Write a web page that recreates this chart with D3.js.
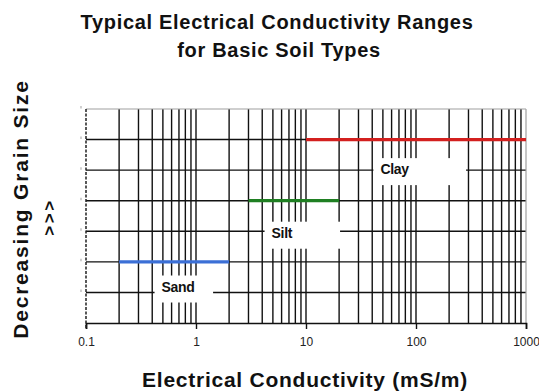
<!DOCTYPE html>
<html>
<head>
<meta charset="utf-8">
<script src="https://cdnjs.cloudflare.com/ajax/libs/d3/7.8.5/d3.min.js"></script>
<style>
  body { margin: 0; background: #fff; }
  svg { display: block; font-family: "Liberation Sans", Arial, sans-serif; }
</style>
</head>
<body>
<svg id="chart" width="539" height="391"></svg>
<script>
// ---- data ----
const soilTypes = ["Sand", "Silt", "Clay"];
const rangeMin = [0.2, 3, 10];        // mS/m
const rangeMax = [2, 20, 1000];       // mS/m
const rangeLevel = [2, 4, 6];         // grain-size level (relative)
const soilColors = ["#3b6fd6", "#1f7f22", "#d3201f"];
const labelLevel = [1.03, 2.79, 4.87]; // label baseline level
const labelFrom = [0.42, 4.2, 41];
const labelTo = [1.43, 20.4, 285];
const xTickValues = [0.1, 1, 10, 100, 1000];
const xTickLabels = ["0.1", "1", "10", "100", "1000"];
const yLevels = [0, 1, 2, 3, 4, 5, 6, 7];

// ---- layout ----
const svg = d3.select("#chart");
const L = 86, R = 526, T = 109, B = 323;
const x = d3.scaleLog().domain([0.1, 1000]).range([L, R]);
const y = d3.scaleLinear().domain([0, 7]).range([B, T]);

// minor + major vertical grid values
const vGrid = [];
[0.1, 1, 10, 100].forEach(d => { for (let k = 1; k <= 9; k++) vGrid.push(d * k); });

const g = svg.append("g");

// vertical gridlines (skip left axis at 0.1)
g.selectAll(".vg").data(vGrid.filter(v => v > 0.1 + 1e-9)).join("line")
  .attr("x1", d => x(d)).attr("x2", d => x(d))
  .attr("y1", y(7)).attr("y2", B)
  .attr("stroke", "#111").attr("stroke-width", 1.4);

// horizontal gridlines
g.selectAll(".hg").data(yLevels.filter(v => v > 0 && v < 7)).join("line")
  .attr("x1", L).attr("x2", R)
  .attr("y1", d => y(d)).attr("y2", d => y(d))
  .attr("stroke", "#111").attr("stroke-width", 1.4);

// top and right border (gray)
g.append("line").attr("x1", L).attr("x2", R).attr("y1", y(7)).attr("y2", y(7))
  .attr("stroke", "#a0a0a0").attr("stroke-width", 1.2);
g.append("line").attr("x1", R).attr("x2", R).attr("y1", y(7)).attr("y2", B)
  .attr("stroke", "#a0a0a0").attr("stroke-width", 1.2);

// label boxes (white) covering gridlines
soilTypes.forEach((s, i) => {
  const yb = y(labelLevel[i]);
  const x0 = x(labelFrom[i]), x1 = x(labelTo[i]);
  g.append("rect").attr("x", x0).attr("y", yb - 16).attr("width", x1 - x0).attr("height", 27)
    .attr("fill", "#fff");
  g.append("text").attr("x", x0 + 7).attr("y", yb)
    .attr("font-size", 14).attr("font-weight", "bold").attr("fill", "#111")
    .attr("letter-spacing", -0.3)
    .text(s);
});

// bottom axis
const xAxis = d3.axisBottom(x).tickValues(xTickValues)
  .tickFormat((d, i) => xTickLabels[i]).tickSize(6).tickPadding(8);
const ax = svg.append("g").attr("transform", `translate(0,${B})`).call(xAxis);
ax.select(".domain").attr("stroke", "#111").attr("stroke-width", 1.6);
ax.selectAll(".tick line").attr("stroke", "#111").attr("stroke-width", 1.4);
ax.selectAll(".tick text").attr("font-size", 12).attr("fill", "#222")
  .attr("font-family", "Liberation Sans, Arial, sans-serif");

// left axis (dashed)
svg.append("line").attr("x1", L).attr("x2", L).attr("y1", T).attr("y2", B + 6)
  .attr("stroke", "#222").attr("stroke-width", 1.5).attr("stroke-dasharray", "3,1.5");
// tiny gray tick marks left of axis
svg.selectAll(".yt").data(yLevels.filter(v => v > 0)).join("line")
  .attr("x1", L - 5).attr("x2", L - 5)
  .attr("y1", d => y(d) - 3).attr("y2", d => y(d) - 0.5)
  .attr("stroke", "#b0b0b0").attr("stroke-width", 1.2);

// soil range lines
svg.selectAll(".range").data(soilTypes).join("line")
  .attr("x1", (d, i) => x(rangeMin[i])).attr("x2", (d, i) => x(rangeMax[i]))
  .attr("y1", (d, i) => y(rangeLevel[i])).attr("y2", (d, i) => y(rangeLevel[i]))
  .attr("stroke", (d, i) => soilColors[i]).attr("stroke-width", 3.2);

// titles
svg.append("text").attr("x", 277).attr("y", 29).attr("text-anchor", "middle")
  .attr("font-size", 20).attr("font-weight", "bold").attr("letter-spacing", 0.7).attr("fill", "#111")
  .text("Typical Electrical Conductivity Ranges");
svg.append("text").attr("x", 279).attr("y", 57).attr("text-anchor", "middle")
  .attr("font-size", 20).attr("font-weight", "bold").attr("letter-spacing", 0.7).attr("fill", "#111")
  .text("for Basic Soil Types");

svg.append("text").attr("x", 305).attr("y", 387).attr("text-anchor", "middle")
  .attr("font-size", 21).attr("font-weight", "bold").attr("letter-spacing", 0.75).attr("fill", "#111")
  .text("Electrical Conductivity (mS/m)");

svg.append("text").attr("transform", "translate(28,209) rotate(-90)").attr("text-anchor", "middle")
  .attr("font-size", 21).attr("font-weight", "bold").attr("letter-spacing", 1.8).attr("fill", "#111")
  .text("Decreasing Grain Size");

svg.append("text").attr("transform", "translate(55,217) rotate(-90)").attr("text-anchor", "middle")
  .attr("font-size", 17).attr("font-weight", "bold").attr("letter-spacing", 2.5).attr("fill", "#111")
  .text(">>>");
</script>
</body>
</html>
